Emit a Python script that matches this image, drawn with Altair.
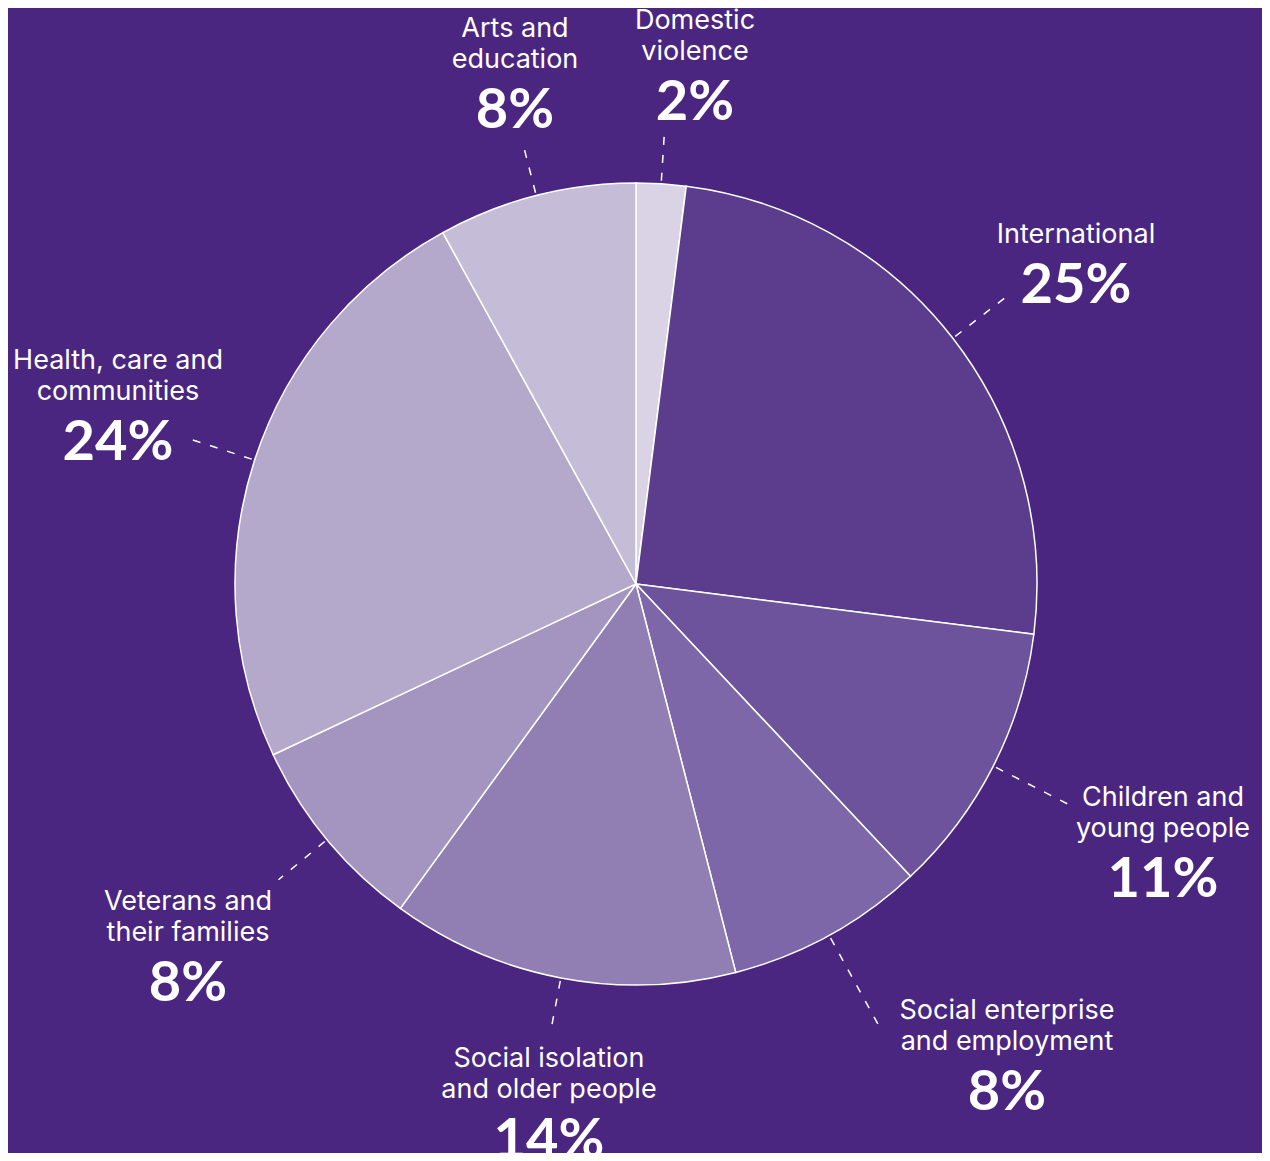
import altair as alt
import pandas as pd

# ---- data ----
categories = [
    "Domestic violence",
    "International",
    "Children and young people",
    "Social enterprise and employment",
    "Social isolation and older people",
    "Veterans and their families",
    "Health, care and communities",
    "Arts and education",
]
label_lines = [
    "Domestic\nviolence",
    "International",
    "Children and\nyoung people",
    "Social enterprise\nand employment",
    "Social isolation\nand older people",
    "Veterans and\ntheir families",
    "Health, care and\ncommunities",
    "Arts and\neducation",
]
shares = [2, 25, 11, 8, 14, 8, 24, 8]
slice_colors = ["#dad3e6", "#5c3c8d", "#6d529c", "#7e67a8",
                "#917fb4", "#a394c0", "#b4a8cb", "#c5bcd8"]

# ---- layout (pixels) ----
BG = "#4a2680"
CX, CY, R = 628, 576, 401
LINE_H = 31
leader_outer = [454, 470, 484, 508, 456, 464, 470, 448]
label_x = [695, 1076, 1163, 1007, 549, 188, 118, 515]
label_y = [100, 283, 877, 1090, 1138, 981, 440, 108]

df = pd.DataFrame({
    "category": categories,
    "label": label_lines,
    "share": shares,
    "idx": list(range(len(categories))),
    "pct": [f"{s}%" for s in shares],
    "nlines": [t.count("\n") + 1 for t in label_lines],
    "lr": leader_outer,
    "lx": label_x,
    "ly": label_y,
})

base = alt.Chart(df)

pie = base.mark_arc(radius=R, stroke="white", strokeWidth=1.5).encode(
    theta=alt.Theta("share:Q", stack=True),
    order=alt.Order("idx:Q"),
    color=alt.Color("category:N",
                    scale=alt.Scale(domain=categories, range=slice_colors),
                    legend=None),
    x=alt.value(CX),
    y=alt.value(CY),
)

leaders = base.transform_window(
    cum="sum(share)", sort=[alt.SortField("idx")], frame=[None, 0]
).transform_joinaggregate(
    total="sum(share)"
).transform_calculate(
    mid="(datum.cum - datum.share/2) / datum.total * 2 * PI",
    x1=f"{CX} + {R + 3} * sin(datum.mid)",
    y1=f"{CY} - {R + 3} * cos(datum.mid)",
    x2=f"{CX} + datum.lr * sin(datum.mid)",
    y2=f"{CY} - datum.lr * cos(datum.mid)",
).mark_rule(color="white", strokeWidth=1.5, strokeDash=[8, 10]).encode(
    x=alt.X("x1:Q", scale=None),
    y=alt.Y("y1:Q", scale=None),
    x2="x2:Q",
    y2="y2:Q",
)

names = base.transform_calculate(
    nx="datum.lx - 8",
    ny=f"datum.ly - 8 - 34 - {LINE_H} * (datum.nlines - 1)",
).mark_text(
    font="Inter", fontSize=27, color="white", align="center",
    baseline="bottom", lineBreak="\n", lineHeight=LINE_H,
).encode(
    x=alt.X("nx:Q", scale=None),
    y=alt.Y("ny:Q", scale=None),
    text="label:N",
)

nums = base.transform_calculate(
    nx="datum.lx - 8",
    ny="datum.ly - 8 + 20",
).mark_text(
    font="Lato", fontSize=56, fontWeight="bold", color="white",
    align="center", baseline="alphabetic",
).encode(
    x=alt.X("nx:Q", scale=None),
    y=alt.Y("ny:Q", scale=None),
    text="pct:N",
)

chart = alt.layer(pie, leaders, names, nums).properties(
    width=1254, height=1145,
    autosize=alt.AutoSizeParams(type="none"),
    padding=0,
    background=BG,
).configure_view(stroke=None)

chart.save("out.html", embed_options={"renderer": "svg", "actions": False})
